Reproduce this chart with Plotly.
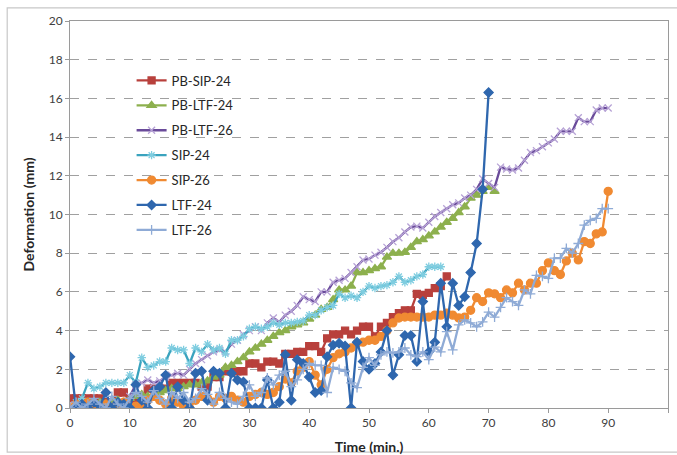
import plotly.graph_objects as go

# Deformation readings (mm), one reading per minute starting at t = 0
pb_sip_24 = [0.5, 0.5, 0.5, 0.5, 0.5, 0.5, 0.3, 0.3, 0.8, 0.8,
             0.4, 0.4, 0.5, 1.0, 1.0, 1.0, 1.0, 1.3, 1.3, 1.3,
             1.3, 1.3, 1.1, 1.1, 1.6, 1.6, 1.9, 1.9, 1.9, 1.9,
             2.3, 2.3, 2.1, 2.4, 2.4, 2.3, 2.8, 2.8, 2.9, 2.9,
             3.2, 3.2, 2.9, 3.6, 3.8, 3.8, 4.0, 3.8, 4.0, 4.2,
             4.2, 3.7, 4.2, 4.4, 4.7, 4.9, 5.05, 5.05, 5.9, 5.85,
             5.95, 6.2, 6.3, 6.8]

pb_ltf_24 = [0.0, 0.1, 0.2, 0.3, 0.2, 0.3, 0.2, 0.3, 0.4, 0.3,
             0.5, 0.6, 0.7, 0.6, 0.7, 0.8, 0.9, 1.0, 1.0, 1.1,
             1.2, 1.2, 1.3, 1.4, 1.6, 1.7, 2.1, 2.2, 2.4, 2.6,
             2.9, 3.1, 3.3, 3.5, 3.7, 3.9, 4.0, 4.2, 4.3, 4.4,
             4.6, 4.8, 5.1, 5.2, 5.6, 6.1, 6.1, 6.3, 7.0, 7.0,
             7.1, 7.2, 7.3, 7.8, 8.0, 8.0, 8.05, 8.3, 8.6, 8.7,
             8.9, 9.1, 9.35, 9.6, 9.8, 10.1, 10.4, 10.85, 11.0, 11.2,
             11.4, 11.2]

pb_ltf_26 = [0.0, 0.0, 0.1, 0.0, 0.1, 0.2, 0.1, 0.2, 0.3, 0.2,
             0.6, 1.2, 1.3, 1.45, 1.3, 1.4, 1.6, 1.7, 1.8, 1.7,
             2.0, 2.3, 2.5, 2.7, 2.9, 3.0, 2.9, 3.3, 3.5, 3.8,
             4.0, 4.2, 4.0, 4.4, 4.65, 4.45, 4.8, 5.0, 5.3, 5.75,
             5.6, 5.5, 6.0, 6.0, 6.5, 6.6, 6.7, 7.0, 7.3, 7.65,
             7.7, 7.9, 8.05, 8.3, 8.6, 8.8, 9.1, 9.35, 9.4, 9.3,
             9.6, 9.9, 10.1, 10.3, 10.5, 10.6, 10.85, 11.0, 11.3, 11.85,
             11.6, 11.4, 12.45, 12.35, 12.3, 12.4, 12.8, 13.2, 13.3, 13.5,
             13.7, 13.9, 14.3, 14.3, 14.3, 15.0, 14.8, 14.8, 15.4, 15.5,
             15.5]

sip_24 = [0.0, 0.3, 0.5, 1.3, 1.0, 1.1, 1.3, 1.3, 1.3, 1.3,
          1.7, 1.3, 2.6, 2.1, 2.2, 2.4, 2.4, 3.1, 3.0, 3.0,
          2.3, 3.1, 2.9, 3.3, 3.0, 3.1, 2.8, 3.5, 3.5, 3.7,
          4.1, 4.2, 4.1, 4.2, 4.4, 4.3, 4.4, 4.4, 4.45, 4.5,
          4.8, 4.8, 5.05, 5.2, 5.3, 5.9, 5.7, 5.8, 5.7, 6.0,
          6.3, 6.2, 6.3, 6.35, 6.5, 6.8, 6.5, 6.6, 6.8, 6.9,
          7.3, 7.3, 7.3]

sip_26 = [0.0, 0.2, 0.0, 0.3, 0.0, 0.0, 0.2, 0.0, 0.0, 0.3,
          0.0, 0.1, 0.0, 0.4, 0.6, 0.4, 0.2, 0.5, 0.3, 0.1,
          0.0, 0.4, 0.6, 0.5, 0.3, 0.6, 0.5, 0.6, 0.4, 0.3,
          0.6, 0.7, 0.8, 0.7, 0.8, 1.1, 1.5, 1.3, 1.9, 2.1,
          2.4, 1.7, 1.2, 2.0, 2.6, 2.8, 2.9, 3.1, 3.35, 3.4,
          3.5, 3.5, 3.7, 4.0, 4.4, 4.65, 4.7, 4.7, 4.7, 4.7,
          4.7, 4.8, 4.8, 4.9, 4.8, 4.65, 4.7, 5.05, 5.7, 5.5,
          5.95, 5.9, 5.7, 6.1, 5.95, 6.45, 6.1, 6.45, 6.45, 7.1,
          7.5, 7.1, 6.9, 7.6, 8.0, 7.65, 8.6, 8.5, 9.0, 9.1,
          11.2]

ltf_24 = [2.65, 0.0, 0.2, 0.0, 0.3, 0.1, 0.8, 0.0, 0.3, 0.2,
          0.0, 1.2, 0.4, 0.0, 0.9, 1.1, 1.7, 0.0, 1.1, 0.4,
          0.0, 1.8, 1.9, 0.4, 1.9, 1.8, 0.0, 1.8, 1.45, 1.35,
          0.0, 0.0, 0.0, 1.45, 0.0, 0.3, 2.75, 0.4, 2.5, 2.3,
          1.6, 0.8, 0.9, 2.65, 3.25, 3.35, 3.2, 0.0, 3.4, 2.4,
          2.0, 2.3, 2.9, 4.0, 1.7, 2.75, 3.75, 3.75, 2.4, 5.5,
          2.9, 3.4, 6.45, 4.2, 6.45, 5.3, 5.75, 7.0, 8.5, 11.3,
          16.3]

ltf_26 = [0.0, 0.3, 0.0, 0.2, 0.5, 0.2, 0.0, 0.6, 0.2, 0.0,
          0.5, 0.8, 0.6, 0.3, 0.9, 0.5, 0.2, 0.8, 0.5, 0.8,
          0.3, 0.5, 1.0, 0.7, 0.2, 0.8, 0.5, 0.3, 0.2, 0.6,
          1.2, 0.6, 0.8, 1.55, 1.2, 1.7, 1.9, 1.1, 1.45, 2.0,
          2.3, 2.2, 2.2, 0.8, 2.1, 2.0, 1.9, 1.3, 1.05, 2.1,
          2.6, 2.2, 2.75, 2.9, 2.85, 2.9, 3.1, 2.75, 2.65, 2.9,
          2.5, 3.15, 2.9, 3.95, 3.0, 4.3, 4.55, 4.4, 4.2, 4.45,
          4.95, 4.7, 5.2, 5.7, 5.5, 5.3, 6.1, 5.9, 6.85, 6.8,
          6.7, 7.75, 7.75, 8.25, 8.0, 8.5, 9.45, 9.7, 9.8, 10.3,
          10.3]

series_names = ["PB-SIP-24", "PB-LTF-24", "PB-LTF-26", "SIP-24", "SIP-26", "LTF-24", "LTF-26"]
series_values = [pb_sip_24, pb_ltf_24, pb_ltf_26, sip_24, sip_26, ltf_24, ltf_26]

x_ticks = [0, 10, 20, 30, 40, 50, 60, 70, 80, 90, 100]
y_ticks = [0, 2, 4, 6, 8, 10, 12, 14, 16, 18, 20]

# line colour, marker symbol, marker size, marker colour
styles = [
    ("#B8403C", "square", 7, "#B8403C"),
    ("#8DB04E", "triangle-up", 8, "#8DB04E"),
    ("#6A4B9A", "x-thin-open", 7, "#B7A3D6"),
    ("#3AA3BE", "asterisk-open", 7, "#7FCDE0"),
    ("#F08A32", "circle", 8, "#F08A32"),
    ("#2F67AE", "diamond", 7, "#2F67AE"),
    ("#8FABD6", "cross-thin-open", 7, "#8FABD6"),
]

fig = go.Figure()
for name, vals, (lc, sym, ms, mc) in zip(series_names, series_values, styles):
    fig.add_trace(go.Scatter(
        x=list(range(len(vals))), y=vals, name=name, mode="lines+markers",
        legendgroup=name,
        line=dict(color=lc, width=2.3),
        marker=dict(symbol=sym, size=ms, color=mc,
                    line=dict(color=mc, width=1.3)),
    ))

# outer chart frame
fig.add_shape(type="rect", xref="paper", yref="paper",
              x0=-0.105, x1=1.03, y0=-0.114, y1=1.034,
              line=dict(color="#C8C8C8", width=1.2), layer="below")

fig.update_layout(
    width=677, height=455,
    margin=dict(l=70, r=9, t=21, b=47),
    paper_bgcolor="white", plot_bgcolor="white",
    font=dict(family="Lato, Open Sans, sans-serif", color="#404040", size=12),
    showlegend=True,
    legend=dict(x=0.103, y=0.885, xanchor="left", yanchor="top",
                bgcolor="rgba(0,0,0,0)", font=dict(size=13, color="#262626"),
                tracegroupgap=5, itemwidth=30),
    xaxis=dict(range=[0, 100], tickvals=x_ticks, showgrid=False,
               showline=True, linecolor="#9A9A9A", linewidth=1, mirror=True,
               ticks="outside", ticklen=4, tickcolor="#9A9A9A",
               tickfont=dict(size=12, color="#404040"), zeroline=False,
               automargin=False,
               title=dict(text="<b>Time (min.)</b>", standoff=12,
                          font=dict(size=14, color="#262626"))),
    yaxis=dict(range=[0, 20], tickvals=y_ticks, showgrid=True,
               gridcolor="#A0A0A0", griddash="dash", gridwidth=1,
               showline=True, linecolor="#9A9A9A", linewidth=1, mirror=True,
               ticks="outside", ticklen=4, tickcolor="#9A9A9A",
               tickfont=dict(size=12, color="#404040"), zeroline=False,
               automargin=False,
               title=dict(text="<b>Deformation (mm)</b>", standoff=10,
                          font=dict(size=14, color="#262626"))),
)

fig.write_html("out.html")
